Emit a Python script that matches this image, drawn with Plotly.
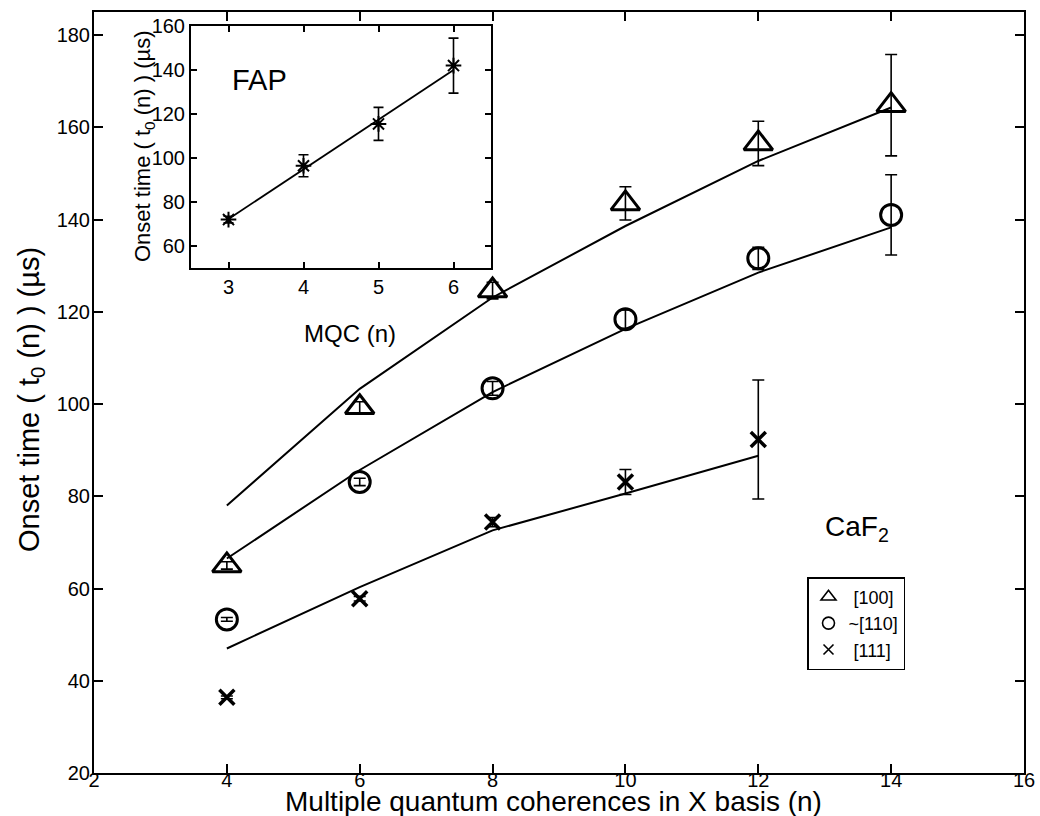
import plotly.graph_objects as go

# ---------------- data ----------------
n_main = [4, 6, 8, 10, 12, 14]
n_111 = [4, 6, 8, 10, 12]

t0_100 = [65.0, 99.3, 124.6, 143.5, 156.5, 164.8]
t0_100_err = [0.8, 1.2, 1.8, 3.6, 4.8, 11.0]
t0_110 = [53.3, 83.1, 103.4, 118.4, 131.6, 141.0]
t0_110_err = [0.4, 0.8, 1.5, 2.0, 2.4, 8.7]
t0_111 = [36.4, 57.8, 74.4, 83.1, 92.3]
t0_111_err = [0.3, 0.5, 1.0, 2.7, 12.9]

fit_100 = [78.0, 103.3, 123.1, 138.6, 152.7, 164.3]
fit_110 = [66.5, 85.7, 102.6, 116.3, 128.5, 138.3]
fit_111 = [47.0, 60.3, 72.6, 80.6, 88.8]

n_fap = [3, 4, 5, 6]
t0_fap = [72.0, 96.5, 115.5, 142.0]
t0_fap_err = [1.5, 5.0, 7.5, 12.5]
fit_fap = [72.3, 95.0, 117.4, 140.0]

legend_names = [" [100]", "~[110]", " [111]"]

main_xticks = [2, 4, 6, 8, 10, 12, 14, 16]
main_yticks = [20, 40, 60, 80, 100, 120, 140, 160, 180]
inset_xticks = [3, 4, 5, 6]
inset_yticks = [60, 80, 100, 120, 140, 160]

# ---------------- layout helpers ----------------
W, H = 1040, 816
FONT = "Liberation Sans, Arial, Helvetica, sans-serif"


def fx(px):
    return px / W


def fy(py):
    return 1 - py / H


fig = go.Figure()

# fit lines (main)
for xs, ys in [(n_main, fit_100), (n_main, fit_110), (n_111, fit_111)]:
    fig.add_trace(go.Scatter(x=xs, y=ys, mode="lines",
                             line=dict(color="black", width=2),
                             showlegend=False, hoverinfo="skip",
                             xaxis="x", yaxis="y"))

# data markers with error bars
eb = dict(type="data", visible=True, color="black", thickness=1.6, width=6)
series = [
    (n_main, t0_100, t0_100_err, "triangle-up-open", 25, 3),
    (n_main, t0_110, t0_110_err, "circle-open", 21, 3),
    (n_111, t0_111, t0_111_err, "x-thin-open", 15, 3.5),
]
for xs, ys, es, sym, sz, lw in series:
    fig.add_trace(go.Scatter(x=xs, y=ys, mode="markers",
                             error_y=dict(array=es, **eb),
                             marker=dict(symbol=sym, size=sz, color="black",
                                         line=dict(width=lw, color="black")),
                             showlegend=False, xaxis="x", yaxis="y"))

# legend entries (thin, small symbols as in the original legend)
for name, sym, sz in zip(legend_names,
                         ["triangle-up-open", "circle-open", "x-thin-open"],
                         [13, 12, 10]):
    fig.add_trace(go.Scatter(x=[None], y=[None], mode="markers", name=name,
                             marker=dict(symbol=sym, size=sz, color="black",
                                         line=dict(width=1.6, color="black")),
                             xaxis="x", yaxis="y"))

# inset
fig.add_trace(go.Scatter(x=n_fap, y=fit_fap, mode="lines",
                         line=dict(color="black", width=1.8),
                         showlegend=False, hoverinfo="skip",
                         xaxis="x2", yaxis="y2"))
fig.add_trace(go.Scatter(x=n_fap, y=t0_fap, mode="markers",
                         error_y=dict(type="data", array=t0_fap_err, color="black",
                                      thickness=1.6, width=5),
                         marker=dict(symbol="asterisk-open", size=13, color="black",
                                     line=dict(width=2, color="black")),
                         showlegend=False, xaxis="x2", yaxis="y2"))

axis_common = dict(showline=True, linecolor="black", linewidth=2, mirror="ticks",
                   ticks="inside", tickcolor="black", tickwidth=1.5,
                   showgrid=False, zeroline=False, automargin=False,
                   tickfont=dict(family=FONT, size=20, color="black"))

fig.update_layout(
    template="none",
    width=W, height=H,
    margin=dict(l=0, r=0, t=0, b=0),
    paper_bgcolor="white", plot_bgcolor="white",
    font=dict(family=FONT, color="black"),
    xaxis=dict(domain=[fx(94), fx(1024)], range=[2, 16], tickvals=main_xticks,
               ticklen=9, anchor="y", ticklabelstandoff=-12, **axis_common),
    yaxis=dict(domain=[fy(773), fy(12)], range=[20, 185], tickvals=main_yticks,
               ticklen=9, anchor="x", ticklabelstandoff=-2, **axis_common),
    xaxis2=dict(domain=[fx(191), fx(491)], range=[2.5, 6.5], tickvals=inset_xticks,
                ticklen=6, anchor="y2", **axis_common),
    yaxis2=dict(domain=[fy(268), fy(26)], range=[50, 160], tickvals=inset_yticks,
                ticklen=6, anchor="x2", **axis_common),
    showlegend=True,
    legend=dict(x=fx(807), y=fy(577), xanchor="left", yanchor="top",
                bordercolor="black", borderwidth=1.5, bgcolor="white",
                font=dict(family=FONT, size=18, color="black"),
                itemsizing="trace", tracegroupgap=0, itemwidth=30),
)

annotations = [
    dict(x=fx(553), y=fy(801), text="Multiple quantum coherences in X basis (n)",
         font=dict(size=28)),
    dict(x=fx(31), y=fy(400), text="Onset time ( t<sub>0</sub> (n) ) (µs)",
         font=dict(size=29), textangle=-90),
    dict(x=fx(350), y=fy(333), text="MQC (n)", font=dict(size=24)),
    dict(x=fx(144), y=fy(146), text="Onset time ( t<sub>0</sub> (n) ) (µs)",
         font=dict(size=22), textangle=-90),
    dict(x=fx(259), y=fy(80), text="FAP", font=dict(size=29)),
    dict(x=fx(857), y=fy(528), text="CaF<sub>2</sub>", font=dict(size=28)),
]
for a in annotations:
    a.update(xref="paper", yref="paper", showarrow=False,
             xanchor="center", yanchor="middle")
    a["font"].update(family=FONT, color="black")
fig.update_layout(annotations=annotations)

fig.write_html("out.html")
